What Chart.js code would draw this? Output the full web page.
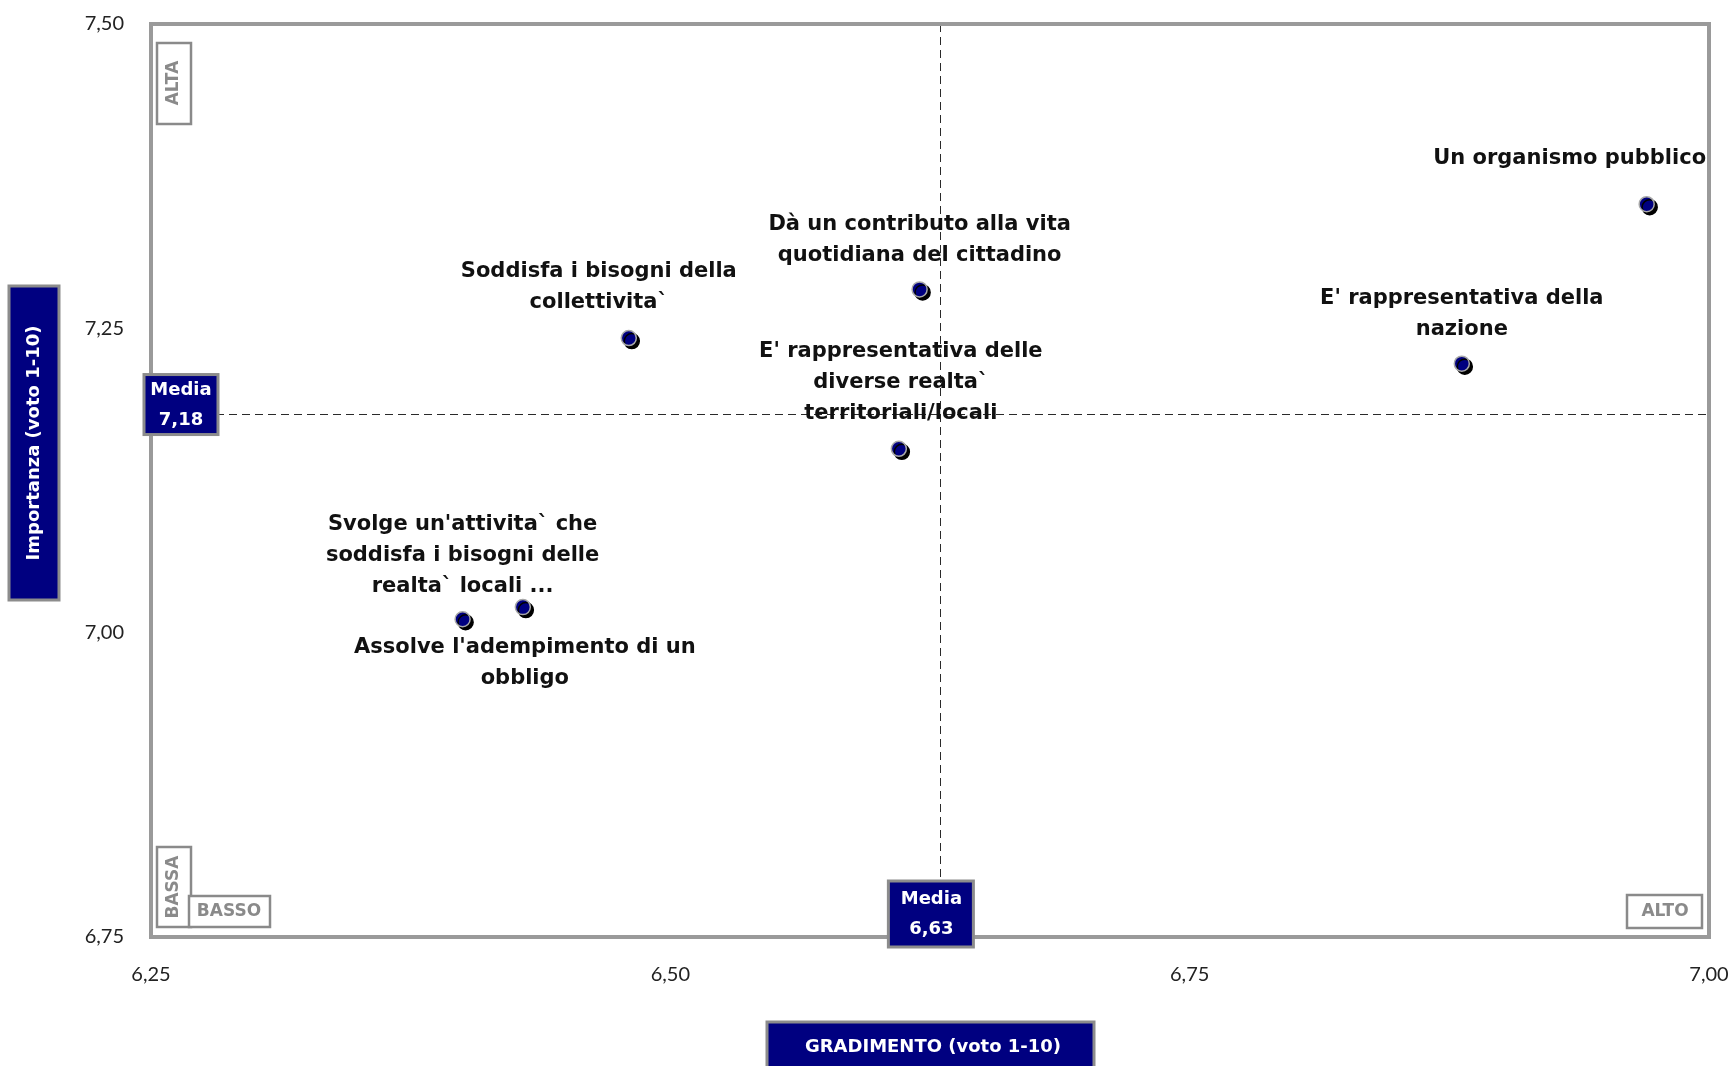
<!DOCTYPE html>
<html>
<head>
<meta charset="utf-8">
<script src="https://cdn.jsdelivr.net/npm/chart.js@4.4.1/dist/chart.umd.min.js"></script>
<style>
  html, body { margin: 0; padding: 0; background: #ffffff; }
  #wrap { width: 1734px; height: 1066px; position: relative; overflow: hidden; }
</style>
</head>
<body>
<div id="wrap"><canvas id="chart" width="1734" height="1066"></canvas></div>
<script>
// Item labels (line breaks as shown on the chart)
const categories = [
  "Un organismo pubblico",
  "E' rappresentativa della\nnazione",
  "Dà un contributo alla vita\nquotidiana del cittadino",
  "Soddisfa i bisogni della\ncollettivita`",
  "E' rappresentativa delle\ndiverse realta`\nterritoriali/locali",
  "Svolge un'attivita` che\nsoddisfa i bisogni delle\nrealta` locali ...",
  "Assolve l'adempimento di un\nobbligo"
];
// Gradimento (x) and Importanza (y), voto 1-10
const gradimento = [6.970, 6.881, 6.620, 6.480, 6.610, 6.400, 6.429];
const importanza = [7.352, 7.221, 7.282, 7.242, 7.151, 7.011, 7.021];

const xTickValues = [6.25, 6.50, 6.75, 7.00];
const yTickValues = [6.75, 7.00, 7.25, 7.50];

const mediaGradimento = 6.63;
const mediaImportanza = 7.18;

const xTitle = "GRADIMENTO (voto 1-10)";
const yTitle = "Importanza (voto 1-10)";
const mediaLabel = "Media";
const cornerLabels = { topLeft: "ALTA", bottomLeftV: "BASSA", bottomLeftH: "BASSO", bottomRight: "ALTO" };

// Label placement around each marker: dx shift, dy = distance of nearest text line centre
const labelPlacement = [
  { side: "above", dx: -77, dy: 46 },
  { side: "above", dx: 0, dy: 34 },
  { side: "above", dx: 0, dy: 34 },
  { side: "above", dx: -30, dy: 36 },
  { side: "above", dx: 2, dy: 35 },
  { side: "above", dx: 0, dy: 33 },
  { side: "below", dx: 2, dy: 40 }
];

const NAVY = "#000080";
const FRAME = "#9a9a9a";
const LABEL_FONT = "bold 21px 'DejaVu Sans', sans-serif";
const BOX_FONT = "bold 18px 'DejaVu Sans', sans-serif";
const CORNER_FONT = "bold 17px 'DejaVu Sans', sans-serif";
const LINE_H = 31;

const fmt = v => v.toFixed(2).replace(".", ",");

function drawBox(ctx, x, y, w, h, fill, stroke, lw) {
  ctx.save();
  ctx.fillStyle = fill;
  ctx.fillRect(x, y, w, h);
  ctx.strokeStyle = stroke;
  ctx.lineWidth = lw;
  ctx.strokeRect(x, y, w, h);
  ctx.restore();
}

function drawText(ctx, text, x, y, font, color, rotate) {
  ctx.save();
  ctx.font = font;
  ctx.fillStyle = color;
  ctx.textAlign = "center";
  ctx.textBaseline = "middle";
  ctx.translate(x, y);
  if (rotate) ctx.rotate(-Math.PI / 2);
  ctx.fillText(text, 0, 0);
  ctx.restore();
}

// fixed axis band sizes, no extra label overhang padding
function fixBand(prop, size) {
  return s => {
    s[prop] = size;
    s.paddingLeft = s.paddingRight = s.paddingTop = s.paddingBottom = 0;
  };
}

// Plot frame and dashed mean lines, drawn under the markers
const quadrantPlugin = {
  id: "quadrant",
  beforeDatasetsDraw(chart) {
    const { ctx, chartArea: a, scales: { x, y } } = chart;
    ctx.save();
    ctx.strokeStyle = "#2a2a2a";
    ctx.lineWidth = 1;
    ctx.setLineDash([8, 5]);
    const mx = Math.round(x.getPixelForValue(mediaGradimento)) + 0.5;
    const my = Math.round(y.getPixelForValue(mediaImportanza)) + 0.5;
    ctx.beginPath();
    ctx.moveTo(mx, a.top); ctx.lineTo(mx, a.bottom);
    ctx.moveTo(a.left, my); ctx.lineTo(a.right, my);
    ctx.stroke();
    ctx.setLineDash([]);
    ctx.strokeStyle = FRAME;
    ctx.lineWidth = 4;
    ctx.strokeRect(a.left, a.top, a.right - a.left, a.bottom - a.top);
    ctx.restore();
  },
  beforeDatasetDraw(chart) {
    const ctx = chart.ctx;
    ctx.save();
    ctx.shadowColor = "#000000";
    ctx.shadowOffsetX = 3;
    ctx.shadowOffsetY = 3;
    ctx.shadowBlur = 0;
  },
  afterDatasetDraw(chart) {
    chart.ctx.restore();
  },
  afterDatasetsDraw(chart) {
    const { ctx, chartArea: a, scales: { x, y } } = chart;
    const meta = chart.getDatasetMeta(0);

    // point labels
    ctx.save();
    ctx.font = LABEL_FONT;
    ctx.fillStyle = "#111111";
    ctx.textAlign = "center";
    ctx.textBaseline = "middle";
    meta.data.forEach((pt, i) => {
      const lines = categories[i].split("\n");
      const p = labelPlacement[i];
      const cx = pt.x + p.dx;
      lines.forEach((ln, k) => {
        let ly;
        if (p.side === "above") ly = pt.y - p.dy - (lines.length - 1 - k) * LINE_H;
        else ly = pt.y + p.dy + k * LINE_H;
        ctx.fillText(ln, cx, ly);
      });
    });
    ctx.restore();

    // mean boxes
    const mx = x.getPixelForValue(mediaGradimento);
    const my = y.getPixelForValue(mediaImportanza);
    drawBox(ctx, a.left - 7, my - 39, 74, 60, NAVY, "#8c8c8c", 3);
    drawText(ctx, mediaLabel, a.left + 30, my - 23, BOX_FONT, "#ffffff");
    drawText(ctx, fmt(mediaImportanza), a.left + 30, my + 7, BOX_FONT, "#ffffff");

    drawBox(ctx, mx - 52, a.bottom - 56, 85, 66, NAVY, "#8c8c8c", 3);
    drawText(ctx, mediaLabel, mx - 9, a.bottom - 38, BOX_FONT, "#ffffff");
    drawText(ctx, fmt(mediaGradimento), mx - 9, a.bottom - 8, BOX_FONT, "#ffffff");

    // axis title boxes
    const cxArea = (a.left + a.right) / 2;
    drawBox(ctx, cxArea - 163, 1022, 327, 60, NAVY, "#8c8c8c", 3);
    drawText(ctx, xTitle, cxArea + 3, 1047, BOX_FONT, "#ffffff");
    drawBox(ctx, 9, 286, 50, 314, NAVY, "#8c8c8c", 3);
    drawText(ctx, yTitle, 34, 443, BOX_FONT, "#ffffff", true);

    // quadrant corner tags
    const grey = "#8a8a8a";
    drawBox(ctx, a.left + 6, a.top + 19, 34, 81, "#ffffff", grey, 2.5);
    drawText(ctx, cornerLabels.topLeft, a.left + 23, a.top + 59, CORNER_FONT, grey, true);
    drawBox(ctx, a.left + 6, a.bottom - 90, 34, 80, "#ffffff", grey, 2.5);
    drawText(ctx, cornerLabels.bottomLeftV, a.left + 23, a.bottom - 50, CORNER_FONT, grey, true);
    drawBox(ctx, a.left + 38, a.bottom - 41, 81, 31, "#ffffff", grey, 2.5);
    drawText(ctx, cornerLabels.bottomLeftH, a.left + 78, a.bottom - 25, CORNER_FONT, grey);
    drawBox(ctx, a.right - 82, a.bottom - 42, 75, 33, "#ffffff", grey, 2.5);
    drawText(ctx, cornerLabels.bottomRight, a.right - 44, a.bottom - 25, CORNER_FONT, grey);
  }
};

new Chart(document.getElementById("chart"), {
  type: "scatter",
  data: {
    datasets: [{
      label: "Gradimento / Importanza",
      data: gradimento.map((g, i) => ({ x: g, y: importanza[i] })),
      backgroundColor: NAVY,
      borderColor: "#a8a8a8",
      borderWidth: 1.5,
      pointRadius: 7.5,
      pointHoverRadius: 7.5
    }]
  },
  options: {
    responsive: false,
    animation: false,
    devicePixelRatio: 1,
    layout: { padding: { left: 0, top: 24, right: 25, bottom: 0 } },
    plugins: { legend: { display: false }, tooltip: { enabled: false } },
    scales: {
      x: {
        type: "linear",
        min: 6.25, max: 7.00,
        grid: { display: false },
        border: { display: false },
        afterFit: fixBand("height", 129),
        afterBuildTicks: s => { s.ticks = xTickValues.map(v => ({ value: v })); },
        ticks: {
          padding: 18,
          maxRotation: 0,
          color: "#222222",
          font: { family: "Lato", size: 20 },
          callback: v => fmt(v)
        }
      },
      y: {
        type: "linear",
        min: 6.75, max: 7.50,
        grid: { display: false },
        border: { display: false },
        afterFit: fixBand("width", 151),
        afterBuildTicks: s => { s.ticks = yTickValues.map(v => ({ value: v })); },
        ticks: {
          padding: 19,
          color: "#222222",
          font: { family: "Lato", size: 20 },
          callback: v => fmt(v)
        }
      }
    }
  },
  plugins: [quadrantPlugin]
});
</script>
</body>
</html>
